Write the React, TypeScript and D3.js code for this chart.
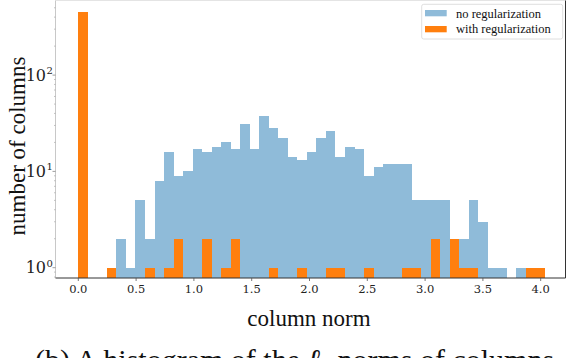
import React from 'react'
import * as d3 from 'd3'

// histogram bins: 49 bins starting at 0.0
const binStart = 0
const binWidth = 0.0824

const noRegCounts = [
  0, 0, 0, 0, 2, 1, 5, 2, 8, 16,
  9, 10, 17, 16, 18, 20, 17, 31, 17, 38,
  28, 22, 14, 13, 16, 22, 26, 14, 18, 17,
  9, 11, 12, 12, 12, 5, 5, 5, 5, 2,
  2, 5, 3, 1, 1, 0, 1, 0, 0,
]
const withRegCounts = [
  452, 0, 0, 1, 0, 0, 0, 1, 0, 1,
  2, 0, 0, 2, 0, 1, 2, 0, 0, 0,
  1, 0, 0, 1, 0, 0, 1, 1, 0, 0,
  1, 0, 0, 0, 1, 1, 0, 2, 0, 2,
  1, 1, 0, 0, 0, 0, 0, 1, 1,
]

const xTicks = [0, 0.5, 1.0, 1.5, 2.0, 2.5, 3.0, 3.5, 4.0]
const yTicks = [1, 10, 100]
const legendLabels = ['no regularization', 'with regularization']

const W = 572
const H = 358
const plot = { left: 55.5, right: 565.5, top: 0.5, bottom: 278 }

const blue = '#8fbbd9'
const orange = '#ff7f0e'

export default function App() {
  const x = d3.scaleLinear().domain([0, 4]).range([78.3, 540.7])
  const y = d3.scaleLog().domain([1, 100]).range([267.7, 75.1])

  const minorTicks: number[] = []
  for (const dec of [1, 10, 100]) {
    for (let k = 2; k <= 9; k++) {
      const v = dec * k
      if (y(v) > plot.top && y(v) < plot.bottom) minorTicks.push(v)
    }
  }
  minorTicks.push(0.8, 0.9)

  const bars = (counts: number[], color: string, key: string) =>
    counts.map((c, i) => {
      if (c <= 0) return null
      const x0 = x(binStart + i * binWidth)
      const x1 = x(binStart + (i + 1) * binWidth)
      const top = y(c)
      return (
        <rect
          key={key + i}
          x={x0}
          y={top}
          width={x1 - x0}
          height={plot.bottom - top}
          fill={color}
          shapeRendering="crispEdges"
        />
      )
    })

  return (
    <div>
      <style>{`body{margin:0;background:#fff}`}</style>
      <svg width={W} height={H} style={{ display: 'block', overflow: 'hidden' }}>
        <rect x={0} y={0} width={W} height={H} fill="#fff" />

        {bars(noRegCounts, blue, 'b')}
        {bars(withRegCounts, orange, 'o')}

        {/* spines */}
        <line x1={plot.left} x2={plot.right} y1={plot.top} y2={plot.top} stroke="#e4e4e4" />
        <line x1={plot.left} x2={plot.left} y1={plot.top} y2={plot.bottom} stroke="#c8c8c8" />
        <line x1={plot.right} x2={plot.right} y1={plot.top} y2={plot.bottom} stroke="#333" />
        <line x1={plot.left} x2={plot.right} y1={plot.bottom} y2={plot.bottom} stroke="#333" />

        {/* x axis */}
        {xTicks.map(t => (
          <g key={'xt' + t}>
            <line x1={x(t)} x2={x(t)} y1={plot.bottom} y2={plot.bottom + 3} stroke="#555" strokeWidth={0.8} />
            <text
              x={x(t)}
              y={292.5}
              textAnchor="middle"
              fontFamily="DejaVu Serif"
              fontSize={11.5}
              fill="#222"
            >
              {t.toFixed(1)}
            </text>
          </g>
        ))}

        {/* y axis */}
        {yTicks.map(t => (
          <g key={'yt' + t}>
            <line x1={plot.left - 3} x2={plot.left} y1={y(t)} y2={y(t)} stroke="#888" strokeWidth={0.8} />
            <text x={46} y={y(t) + 5.5} textAnchor="end" fontFamily="DejaVu Serif" fontSize={16} fill="#222">
              10
            </text>
            <text x={46.5} y={y(t) - 1} fontFamily="DejaVu Serif" fontSize={10} fill="#222">
              {Math.round(Math.log10(t))}
            </text>
          </g>
        ))}
        {minorTicks.map(t => (
          <line
            key={'ym' + t}
            x1={plot.left - 1.5}
            x2={plot.left}
            y1={y(t)}
            y2={y(t)}
            stroke="#aaa"
            strokeWidth={0.7}
          />
        ))}

        {/* axis titles */}
        <text
          transform={`translate(25,146) rotate(-90)`}
          textAnchor="middle"
          fontFamily="Liberation Serif"
          fontSize={23}
          fill="#111"
        >
          number of columns
        </text>
        <text x={309} y={326} textAnchor="middle" fontFamily="Liberation Serif" fontSize={23} fill="#111">
          column norm
        </text>

        {/* caption, cut off by the frame */}
        <text x={35} y={369.5} fontFamily="Liberation Serif" fontSize={30} fill="#111">
          (b) A histogram of the <tspan fontStyle="italic">ℓ</tspan>
          <tspan fontSize={20} dy={5}>2</tspan>
          <tspan dy={-5}> norms of columns</tspan>
        </text>

        {/* legend */}
        <g>
          <rect x={421.7} y={4.3} width={141} height={34.7} rx={2} fill="#fff" fillOpacity={0.85} stroke="#d6d6d6" strokeWidth={0.8} />
          {legendLabels.map((lab, i) => (
            <g key={lab}>
              <rect x={425} y={10 + i * 16} width={21.7} height={6.3} fill={i === 0 ? blue : orange} />
              <text x={456} y={17.5 + i * 15.5} fontFamily="Liberation Serif" fontSize={12.5} fill="#111">
                {lab}
              </text>
            </g>
          ))}
        </g>
      </svg>
    </div>
  )
}
